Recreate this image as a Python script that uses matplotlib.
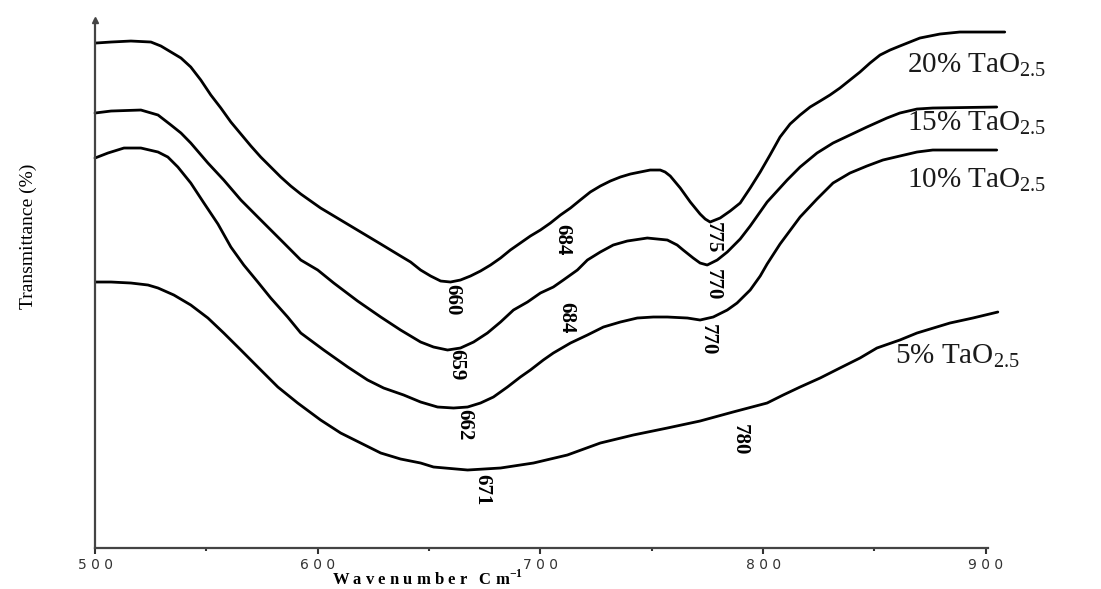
import matplotlib.pyplot as plt
from matplotlib.ticker import MultipleLocator, FixedLocator, FixedFormatter

plt.rcParams['mathtext.fontset'] = 'custom'
plt.rcParams['mathtext.rm'] = 'Liberation Serif'
plt.rcParams['mathtext.bf'] = 'Liberation Serif:bold'

# wavenumber (cm-1) and transmittance (arbitrary units, curves stacked)
w20 = [500.4, 507.2, 516.1, 525.1, 529.6, 534.1, 538.6, 543.0, 547.5, 552.0, 556.5, 561.0,
       565.5, 570.0, 574.4, 578.9, 583.4, 587.9, 592.4, 601.3, 610.3, 619.3, 628.3, 637.2,
       641.7, 646.2, 650.7, 655.2, 659.6, 664.1, 668.6, 673.1, 677.6, 682.1, 686.5, 691.0,
       695.5, 700.0, 704.5, 709.0, 713.5, 717.9, 722.4, 726.9, 731.4, 735.9, 740.4, 744.8,
       749.3, 753.8, 756.0, 758.3, 762.8, 767.3, 771.7, 774.0, 776.2, 780.7, 785.2, 789.7,
       794.2, 798.7, 803.1, 807.6, 812.1, 816.6, 821.1, 825.6, 830.0, 834.5, 839.0, 843.5,
       848.0, 852.5, 857.0, 861.4, 865.9, 870.4, 874.9, 879.4, 888.3, 908.5]
t20 = [505, 506, 507, 506, 502, 496, 490, 481, 468, 453, 440, 426,
       414, 402, 391, 381, 371, 362, 354, 340, 328, 316, 304, 292,
       286, 278, 272, 267, 266, 268, 272, 277, 283, 290, 298, 305,
       312, 318, 325, 333, 340, 348, 356, 362, 367, 371, 374, 376,
       378, 378, 376, 372, 360, 346, 334, 329, 326, 330, 337, 345,
       360, 376, 393, 411, 424, 433, 441, 447, 453, 460, 468, 476,
       485, 493, 498, 502, 506, 510, 512, 514, 516, 516]

w15 = [500.0, 507.2, 520.6, 528.3, 534.1, 538.6, 543.0, 550.7, 557.8, 565.5, 573.1, 577.6,
       584.8, 592.4, 600.0, 607.2, 617.9, 628.3, 637.2, 646.2, 652.0, 658.3, 664.1, 670.0,
       676.2, 682.1, 687.9, 694.2, 700.0, 705.8, 710.3, 716.6, 721.1, 726.9, 732.7, 739.0,
       748.0, 757.0, 761.4, 764.1, 768.6, 771.7, 774.9, 779.4, 783.9, 789.7, 794.2, 801.8,
       810.8, 816.6, 824.2, 831.4, 839.0, 846.6, 855.6, 861.4, 869.1, 876.2, 904.9]
t15 = [435, 437, 438, 433, 423, 415, 405, 385, 368, 348, 331, 321,
       305, 288, 278, 265, 247, 231, 218, 206, 201, 198, 200, 206,
       215, 226, 238, 246, 255, 261, 268, 278, 288, 296, 303, 307,
       310, 308, 303, 298, 290, 285, 283, 288, 296, 309, 322, 346,
       368, 381, 395, 405, 413, 421, 430, 435, 439, 440, 441]

w10 = [500.0, 505.8, 513.0, 520.6, 528.3, 532.7, 537.2, 543.0, 548.9, 555.2, 561.0, 566.8,
       573.1, 578.9, 586.5, 592.4, 602.7, 613.5, 622.4, 629.6, 638.6, 646.2, 653.8, 661.0,
       667.3, 673.1, 678.9, 685.2, 691.0, 695.5, 701.3, 705.8, 713.5, 721.1, 728.3, 735.9,
       743.5, 750.7, 757.0, 766.0, 771.7, 777.6, 783.9, 788.3, 794.2, 798.7, 801.8, 807.6,
       816.6, 824.2, 831.4, 839.0, 846.6, 853.8, 861.4, 869.1, 876.2, 904.9]
t10 = [390, 395, 400, 400, 396, 391, 381, 365, 345, 324, 301, 283,
       266, 250, 231, 215, 198, 181, 168, 160, 153, 146, 141, 140,
       141, 145, 151, 161, 171, 178, 188, 195, 205, 213, 221, 226,
       230, 231, 231, 230, 228, 231, 238, 245, 258, 272, 284, 304,
       331, 349, 365, 375, 382, 388, 392, 396, 398, 398]

w5 = [500.4, 507.2, 516.1, 523.8, 528.3, 535.4, 543.0, 550.7, 557.8, 565.5, 573.1, 582.1,
      591.0, 601.3, 610.3, 619.3, 628.3, 637.2, 646.2, 652.0, 667.3, 682.1, 696.9, 712.1,
      726.9, 741.7, 757.0, 771.7, 786.5, 801.8, 809.0, 816.6, 825.6, 834.5, 843.5, 851.1,
      861.4, 869.1, 883.9, 894.2, 905.4]
t5 = [266, 266, 265, 263, 260, 253, 243, 230, 215, 198, 181, 161,
      145, 128, 115, 105, 95, 89, 85, 81, 78, 80, 85, 93,
      105, 113, 120, 127, 136, 145, 153, 161, 170, 180, 190, 200,
      208, 215, 225, 230, 236]

# peak labels: text, wavenumber, transmittance
peak_txt = ['660', '684', '775', '770', '659', '684', '770', '662', '780', '671']
peak_w = [660.5, 710, 777.5, 777.5, 662, 711.5, 775, 666, 789.5, 674]
peak_t = [248, 308, 310, 263, 183, 230, 208, 123, 108, 58]

series_names = ['20%', '15%', '10%', '5%']
name_w = [864.6, 864.6, 864.6, 859.2]
name_t = [476, 418, 361, 185]

fig = plt.figure(figsize=(11.01, 5.89), dpi=100)
ax = fig.add_axes([0.0863, 0.0696, 0.8111, 0.8964])

for w, t in [(w20, t20), (w15, t15), (w10, t10), (w5, t5)]:
    ax.plot(w, t, color='black', lw=2.0, clip_on=False,
            solid_joinstyle='round', solid_capstyle='round')

for s, x, y in zip(peak_txt, peak_w, peak_t):
    ax.text(x, y, s, rotation=270, ha='center', va='center', fontsize=15,
            family='Liberation Serif', fontweight='bold')

for s, x, y in zip(series_names, name_w, name_t):
    ax.text(x, y, s + r' TaO$_{\mathrm{2.5}}$', ha='left', va='baseline', fontsize=21,
            family='Liberation Serif', color='#1a1a1a')

ax.set_xlim(500, 901)
ax.set_ylim(0, 528)
ax.spines['top'].set_visible(False)
ax.spines['right'].set_visible(False)
for sp in ['left', 'bottom']:
    ax.spines[sp].set_linewidth(1.6)
    ax.spines[sp].set_color('#444444')

xticks = [500, 600, 700, 800, 900]
ax.xaxis.set_major_locator(FixedLocator(xticks))
ax.xaxis.set_major_formatter(FixedFormatter([' '.join(str(v)) for v in xticks]))
ax.xaxis.set_minor_locator(MultipleLocator(50))
ax.tick_params(axis='x', which='major', direction='out', length=4.5, width=1.5,
               labelsize=10, pad=3, colors='#333333')
ax.tick_params(axis='x', which='minor', direction='out', length=2.5, width=1.5, colors='#333333')
ax.set_yticks([])
ax.plot(500, 528, marker='^', color='#444444', ms=5, clip_on=False)

ax.set_xlabel(r'W a v e n u m b e r   C m$^{\mathbf{-1}}$', family='Liberation Serif',
              fontweight='bold', fontsize=12)
ax.xaxis.set_label_coords(0.372, -0.040)
ax.set_ylabel('Transmittance (%)', family='Liberation Serif', fontsize=14)
ax.yaxis.set_label_coords(-0.065, 0.59)

fig.savefig('out.png', dpi=100)
